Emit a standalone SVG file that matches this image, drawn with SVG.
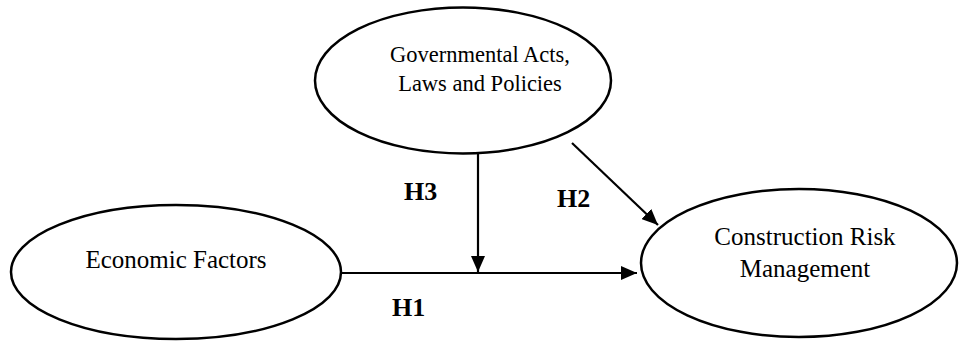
<svg xmlns="http://www.w3.org/2000/svg" width="959" height="341" viewBox="0 0 959 341">
<style>
.node ellipse{fill:#fff;stroke:#000;stroke-width:2.5}
.lbl{font-family:"Liberation Serif","Times New Roman",serif;fill:#000;text-anchor:middle}
.h{font-family:"Liberation Serif","Times New Roman",serif;font-weight:bold;font-size:26px;fill:#000}
.conn line{stroke:#000;stroke-width:2.2}
</style>
<defs>
<marker id="arr" markerUnits="userSpaceOnUse" markerWidth="16" markerHeight="14" refX="16" refY="7" orient="auto">
<path d="M0,0 L16,7 L0,14 Z" fill="#000"/>
</marker>
</defs>
<rect width="959" height="341" fill="#fff"/>
<g id="gov" class="node">
<ellipse cx="463" cy="80.5" rx="148" ry="73"/>
<text class="lbl" x="480" y="62" font-size="22.5">Governmental Acts,</text>
<text class="lbl" x="480" y="91" font-size="22.5">Laws and Policies</text>
</g>
<g id="eco" class="node">
<ellipse cx="176" cy="272" rx="165" ry="67"/>
<text class="lbl" x="176" y="268" font-size="25">Economic Factors</text>
</g>
<g id="crm" class="node">
<ellipse cx="799" cy="263" rx="158" ry="74"/>
<text class="lbl" x="805" y="245" font-size="25">Construction Risk</text>
<text class="lbl" x="805" y="277" font-size="25">Management</text>
</g>
<g id="connectors" class="conn">
<line x1="341" y1="273" x2="637" y2="273" marker-end="url(#arr)"/>
<line x1="478" y1="154" x2="478" y2="272" marker-end="url(#arr)"/>
<line x1="572" y1="143" x2="658" y2="225" marker-end="url(#arr)"/>
</g>
<text class="h" x="404" y="200">H3</text>
<text class="h" x="557" y="207">H2</text>
<text class="h" x="392" y="316">H1</text>
</svg>
